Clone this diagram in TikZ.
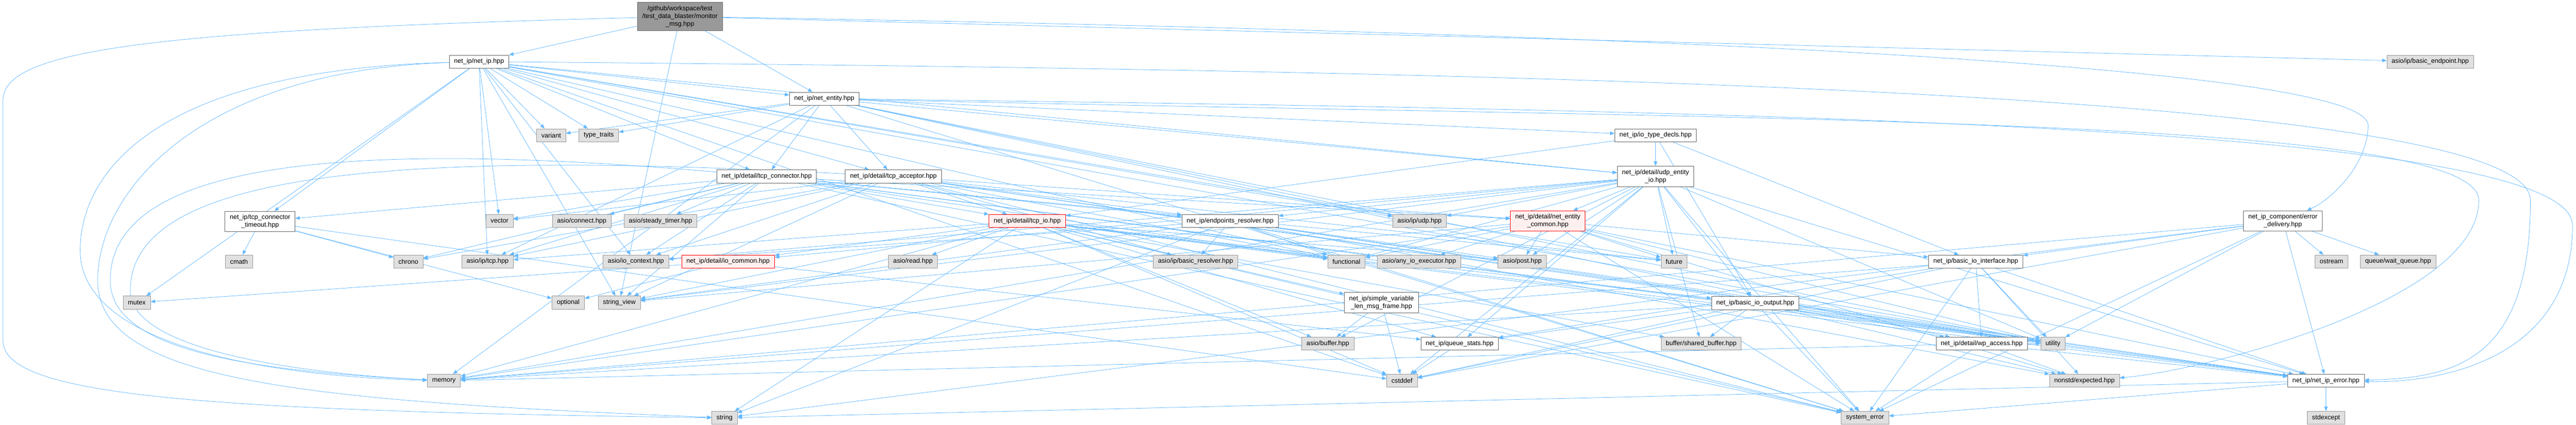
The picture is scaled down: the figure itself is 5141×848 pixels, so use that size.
\documentclass[tikz,border=0pt]{standalone}
\usepackage{fontspec}
\setmainfont{Liberation Sans}
\usetikzlibrary{arrows.meta,backgrounds}
\definecolor{edgeblue}{HTML}{63B8FF}
\definecolor{hdrline}{HTML}{666666}
\definecolor{sysline}{HTML}{999999}
\definecolor{sysfill}{HTML}{E0E0E0}
\definecolor{truncfill}{HTML}{FFF0F0}
\begin{document}
\begin{tikzpicture}[x=1pt, y=-1pt,
		box/.style={rectangle, font=\fontsize{13}{15.2}\selectfont, align=center, inner xsep=9.5pt, inner ysep=1pt, minimum height=26pt, line width=0.8pt},
		hdr/.style={box, draw=hdrline, fill=white},
		sysh/.style={box, draw=sysline, fill=sysfill},
		trunc/.style={box, draw=red, fill=truncfill},
		rootbox/.style={box, draw=hdrline, fill=sysline},
		twolines/.style={minimum height=41pt},
		threelines/.style={minimum height=56pt},
		dep/.style={draw=edgeblue, line width=0.8pt, -{Triangle[length=9pt,width=7pt]}}]
		\useasboundingbox (0,0) rectangle (5141,848);

		\node[rootbox, threelines] (main) at (1357,33) {/github/workspace/test\\/test\_data\_blaster/monitor\\\_msg.hpp};
		\node[hdr] (netip) at (956,123) {net\_ip/net\_ip.hpp};
		\node[sysh] (basicendpoint) at (4850,123) {asio/ip/basic\_endpoint.hpp};
		\node[hdr] (netentity) at (1645,197) {net\_ip/net\_entity.hpp};
		\node[sysh] (variant) at (1100,270) {variant};
		\node[sysh] (typetraits) at (1195,270) {type\_traits};
		\node[hdr] (iotypedecls) at (3304,270) {net\_ip/io\_type\_decls.hpp};
		\node[hdr] (tcpconnector) at (1530,352) {net\_ip/detail/tcp\_connector.hpp};
		\node[hdr] (tcpacceptor) at (1783,352) {net\_ip/detail/tcp\_acceptor.hpp};
		\node[hdr, twolines] (udpentityio) at (3304,352) {net\_ip/detail/udp\_entity\\\_io.hpp};
		\node[hdr, twolines] (tcptimeout) at (519,442) {net\_ip/tcp\_connector\\\_timeout.hpp};
		\node[sysh] (vector) at (997,441) {vector};
		\node[sysh] (asioconnect) at (1161,441) {asio/connect.hpp};
		\node[sysh] (steadytimer) at (1318,441) {asio/steady\_timer.hpp};
		\node[trunc] (tcpio) at (2050,441) {net\_ip/detail/tcp\_io.hpp};
		\node[hdr] (endpointsresolver) at (2455,441) {net\_ip/endpoints\_resolver.hpp};
		\node[sysh] (asioudp) at (2833,441) {asio/ip/udp.hpp};
		\node[trunc, twolines] (netentitycommon) at (3089,441) {net\_ip/detail/net\_entity\\\_common.hpp};
		\node[hdr, twolines] (errordelivery) at (4556,441) {net\_ip\_component/error\\\_delivery.hpp};
		\node[sysh] (cmath) at (477,522) {cmath};
		\node[sysh] (chrono) at (815,522) {chrono};
		\node[sysh] (asiotcp) at (973,522) {asio/ip/tcp.hpp};
		\node[sysh] (iocontext) at (1269,522) {asio/io\_context.hpp};
		\node[trunc] (iocommon) at (1453,522) {net\_ip/detail/io\_common.hpp};
		\node[sysh] (asioread) at (1822,522) {asio/read.hpp};
		\node[sysh] (basicresolver) at (2386,522) {asio/ip/basic\_resolver.hpp};
		\node[sysh] (functional) at (2687,522) {functional};
		\node[sysh] (anyioexecutor) at (2832,522) {asio/any\_io\_executor.hpp};
		\node[sysh] (asiopost) at (3038,522) {asio/post.hpp};
		\node[sysh] (future) at (3341,522) {future};
		\node[hdr] (basicinterface) at (3943,522) {net\_ip/basic\_io\_interface.hpp};
		\node[sysh] (ostream) at (4653,522) {ostream};
		\node[sysh] (waitqueue) at (4786,522) {queue/wait\_queue.hpp};
		\node[sysh] (mutex) at (273,604) {mutex};
		\node[sysh] (optional) at (1134,604) {optional};
		\node[sysh] (stringview) at (1236,604) {string\_view};
		\node[hdr, twolines] (simplevar) at (2757,604) {net\_ip/simple\_variable\\\_len\_msg\_frame.hpp};
		\node[hdr] (basicoutput) at (3503,605) {net\_ip/basic\_io\_output.hpp};
		\node[sysh] (asiobuffer) at (2650,686) {asio/buffer.hpp};
		\node[hdr] (queuestats) at (2913,686) {net\_ip/queue\_stats.hpp};
		\node[sysh] (sharedbuffer) at (3395,686) {buffer/shared\_buffer.hpp};
		\node[hdr] (wpaccess) at (3955,686) {net\_ip/detail/wp\_access.hpp};
		\node[sysh] (utility) at (4097,686) {utility};
		\node[sysh] (memory) at (886,760) {memory};
		\node[sysh] (cstddef) at (2798,760) {cstddef};
		\node[sysh] (expected) at (4160,760) {nonstd/expected.hpp};
		\node[hdr] (netiperror) at (4642,760) {net\_ip/net\_ip\_error.hpp};
		\node[sysh] (string) at (1446,834) {string};
		\node[sysh] (systemerror) at (3722,834) {system\_error};
		\node[sysh] (stdexcept) at (4642,834) {stdexcept};

		\begin{pgfonlayer}{background}
		\foreach \t in {netip,netentity,basicendpoint,stringview}
			\draw[dep] (main) -- (\t);
		\draw[dep] (main) .. controls (300,60) and (6,100) .. (6,200) -- (6,680) .. controls (6,790) and (400,820) .. (string);
		\draw[dep] (main) .. controls (3000,60) and (4726,120) .. (4726,250) .. controls (4726,330) and (4650,400) .. (errordelivery);

		\foreach \t in {netentity,variant,typetraits,tcpconnector,tcpacceptor,udpentityio,tcptimeout,vector,asiotcp,iocontext,asioudp,mutex,stringview,utility,cstddef,future,functional}
			\draw[dep] (netip) -- (\t);
		\draw[dep] (netip) .. controls (300,140) and (160,350) .. (160,500) .. controls (160,680) and (500,750) .. (memory);
		\draw[dep] (netip) .. controls (400,140) and (195,380) .. (195,560) .. controls (195,760) and (600,800) .. (string);
		\draw[dep] (netip) .. controls (3000,140) and (5050,180) .. (5050,400) .. controls (5050,720) and (4900,755) .. (netiperror);

		\foreach \t in {variant,typetraits,tcpconnector,tcpacceptor,udpentityio,iotypedecls,asiotcp,asioudp,wpaccess,memory,systemerror,utility}
			\draw[dep] (netentity) -- (\t);
		\draw[dep] (netentity) .. controls (3500,220) and (5134,250) .. (5134,450) .. controls (5134,700) and (4900,765) .. (netiperror);
		\draw[dep] (netentity) .. controls (3500,240) and (4947,230) .. (4947,400) .. controls (4947,600) and (4400,740) .. (expected);

		\foreach \t in {tcpio,udpentityio,basicinterface,basicoutput}
			\draw[dep] (iotypedecls) -- (\t);

		\foreach \t in {tcptimeout,vector,asioconnect,steadytimer,asiotcp,iocontext,chrono,tcpio,endpointsresolver,netentitycommon,systemerror,functional,utility,future,stringview,netiperror}
			\draw[dep] (tcpconnector) -- (\t);
		\draw[dep] (tcpconnector) .. controls (700,280) and (220,320) .. (220,560) .. controls (220,700) and (500,740) .. (memory);

		\foreach \t in {vector,asiotcp,iocontext,chrono,tcpio,endpointsresolver,basicresolver,netentitycommon,systemerror,functional,utility,future,stringview,netiperror}
			\draw[dep] (tcpacceptor) -- (\t);
		\draw[dep] (tcpacceptor) .. controls (800,300) and (260,340) .. (260,580) .. controls (260,700) and (600,745) .. (memory);

		\foreach \t in {asioudp,iocontext,iocommon,asiobuffer,asiopost,netentitycommon,endpointsresolver,queuestats,basicoutput,sharedbuffer,memory,systemerror,cstddef,utility,stringview,functional,future,netiperror}
			\draw[dep] (udpentityio) -- (\t);

		\foreach \t in {cmath,chrono,optional,cstddef}
			\draw[dep] (tcptimeout) -- (\t);

		\foreach \t in {asiotcp,iocommon,asioread,asiobuffer,asiopost,simplevar,queuestats,basicoutput,sharedbuffer,memory,string,systemerror,cstddef,utility,stringview,functional,netiperror}
			\draw[dep] (tcpio) -- (\t);

		\foreach \t in {basicresolver,iocontext,asiopost,stringview,string,systemerror,utility,expected,netiperror,functional}
			\draw[dep] (endpointsresolver) -- (\t);

		\foreach \t in {functional,anyioexecutor,asiopost,future,basicinterface,memory,systemerror,utility,stringview,netiperror,expected}
			\draw[dep] (netentitycommon) -- (\t);

		\foreach \t in {mutex,optional,queuestats}
			\draw[dep] (iocommon) -- (\t);

		\foreach \t in {basicinterface,ostream,waitqueue,netiperror,string,memory,utility,cstddef,systemerror}
			\draw[dep] (errordelivery) -- (\t);

		\foreach \t in {asiobuffer,cstddef}
			\draw[dep] (simplevar) -- (\t);
		\draw[dep] (queuestats) -- (cstddef);

		\foreach \t in {wpaccess,utility,expected,systemerror,memory,cstddef,queuestats,netiperror}
			\draw[dep] (basicinterface) -- (\t);

		\foreach \t in {sharedbuffer,wpaccess,utility,expected,systemerror,memory,cstddef,queuestats,netiperror}
			\draw[dep] (basicoutput) -- (\t);

		\foreach \t in {expected,systemerror,memory,utility,netiperror}
			\draw[dep] (wpaccess) -- (\t);

		\foreach \t in {systemerror,string,stdexcept}
			\draw[dep] (netiperror) -- (\t);
		\end{pgfonlayer}
	\end{tikzpicture}
\end{document}
